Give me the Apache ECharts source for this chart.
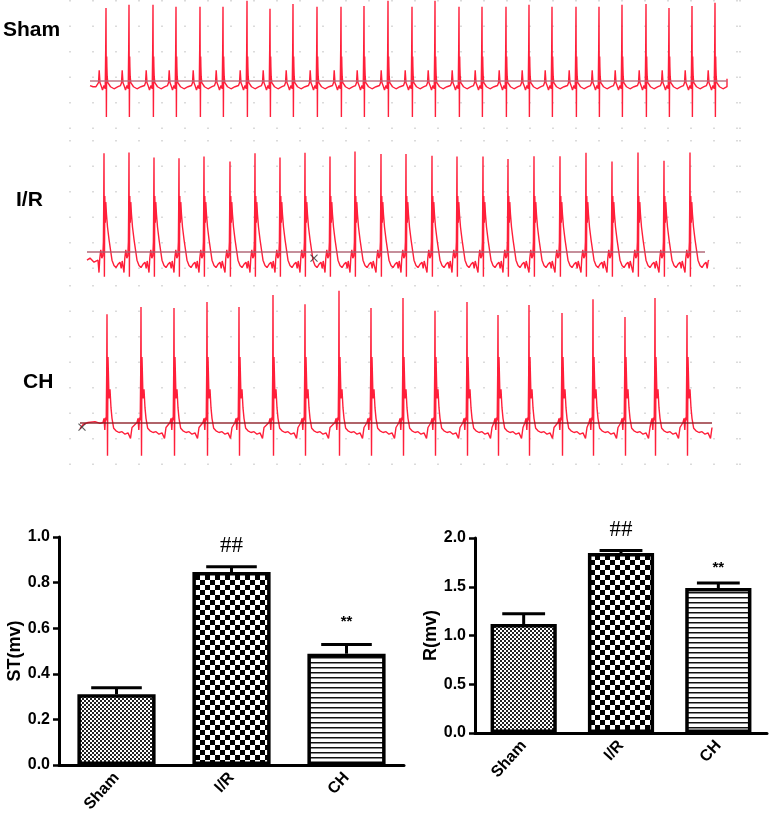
<!DOCTYPE html>
<html><head><meta charset="utf-8">
<script src="https://cdn.jsdelivr.net/npm/echarts@6/dist/echarts.min.js"></script>
<style>html,body{margin:0;padding:0;background:#fff}#c{width:770px;height:825px}</style>
</head><body><div id="c"></div>
<script>
// ---------- ECG data (time in ms, amplitude in mV) ----------
const traceNames = ['Sham', 'I/R', 'CH'];

const shamBeatTimes = [360,590,830,1060,1300,1530,1770,2000,2230,2470,2710,2940,3180,3420,3650,3890,4120,4360,4590,4820,5060,5290,5520,5760,5990,6220,6450];
const shamPeaks = [1.80,1.88,1.88,1.83,1.83,1.83,1.98,1.78,1.90,1.83,1.83,1.85,1.98,1.83,1.98,1.83,1.83,1.83,1.88,1.83,1.83,1.83,1.88,1.90,1.80,1.85,1.93];
const shamBeat = [[-100,-0.15],[-85,-0.12],[-75,-0.05],[-68,0.26],[-60,-0.05],[-45,-0.15],[-35,-0.23],[-20,-0.12],[-8,-0.2],[-3,0.8],[0,'R'],[4,-0.9],[7,0.6],[9,0.34],[12,0.1],[18,-0.05],[30,-0.08],[45,-0.15],[60,-0.18],[80,-0.2],[100,-0.16],[120,-0.15]];
const shamLead = [[200,-0.12],[230,-0.15]];
const shamTail = [[6570,0.05]];

const irBeatTimes = [340,590,840,1090,1340,1600,1850,2100,2350,2600,2850,3110,3360,3620,3870,4130,4380,4640,4900,5160,5420,5680,5940,6200];
const irPeaks = [2.38,2.40,2.28,2.26,2.30,2.18,2.38,2.28,2.39,2.30,2.42,2.36,2.36,2.32,2.30,2.30,2.24,2.31,2.31,2.39,2.18,2.40,2.20,2.40];
const irBeat = [[-60,-0.2],[-50,-0.5],[-42,-0.15],[-32,0.05],[-22,-0.15],[-12,-0.1],[-6,0.25],[-3,1.1],[0,'R'],[4,-0.6],[8,1.35],[13,0.7],[18,1.2],[25,0.9],[35,0.6],[50,0.3],[65,0.05],[80,-0.2],[100,-0.33],[120,-0.38],[140,-0.3],[160,-0.25],[172,-0.4],[182,-0.22],[190,-0.2]];
const irLead = [[170,-0.2],[200,-0.15],[240,-0.25]];
const irTail = [];

const chBeatTimes = [370,710,1040,1370,1690,2030,2350,2690,3010,3330,3650,3970,4280,4590,4920,5230,5550,5850,6170];
const chPeaks = [2.60,2.77,2.75,2.89,2.77,3.06,2.84,3.16,2.75,2.99,2.68,2.89,2.58,2.82,2.63,2.96,2.53,2.99,2.58];
const chBeat = [[-40,0.0],[-30,0.1],[-22,-0.18],[-15,0.12],[-8,0.05],[-3,1.2],[0,'R'],[5,-0.8],[10,1.57],[20,0.58],[30,0.8],[40,0.35],[50,0.1],[67,-0.14],[90,-0.2],[120,-0.24],[150,-0.22],[180,-0.28],[210,-0.25],[235,-0.38],[250,-0.12]];
const chLead = [[100,-0.15],[130,-0.05],[180,0.0],[250,0.02],[300,-0.02]];
const chTail = [];

const baseStart = [200, 170, 100];
const baseEnd = [6570, 6350, 6420];
const markers = [null, [2440, -0.15], [120, -0.11]];

// ---------- Bar chart data ----------
const categories = ['Sham', 'I/R', 'CH'];
const stMean = [0.31, 0.846, 0.488];
const stSem = [0.029, 0.024, 0.041];
const rMean = [1.118, 1.846, 1.487];
const rSem = [0.106, 0.027, 0.051];
const annotations = ['', '##', '**'];
const stTicks = [0, 1.0, 0.2];
const rTicks = [0, 2.0, 0.5];

function buildTrace(lead, times, peaks, beat, tail) {
  const out = lead.slice();
  times.forEach((t, i) => {
    beat.forEach(p => out.push([t + p[0], p[1] === 'R' ? peaks[i] : p[1]]));
  });
  return out.concat(tail);
}
const traces = [
  buildTrace(shamLead, shamBeatTimes, shamPeaks, shamBeat, shamTail),
  buildTrace(irLead, irBeatTimes, irPeaks, irBeat, irTail),
  buildTrace(chLead, chBeatTimes, chPeaks, chBeat, chTail)
];

// ---------- patterns ----------
function makePattern(kind) {
  const c = document.createElement('canvas');
  const ctx = c.getContext('2d');
  if (kind === 0) {
    c.width = 4; c.height = 4;
    ctx.fillStyle = '#fff'; ctx.fillRect(0,0,4,4);
    ctx.fillStyle = '#222'; ctx.fillRect(0,0,2,2); ctx.fillRect(2,2,2,2);
  } else if (kind === 1) {
    c.width = 10; c.height = 10;
    ctx.fillStyle = '#fff'; ctx.fillRect(0,0,10,10);
    ctx.fillStyle = '#000'; ctx.fillRect(0,0,5,5); ctx.fillRect(5,5,5,5);
  } else {
    c.width = 5; c.height = 5;
    ctx.fillStyle = '#fff'; ctx.fillRect(0,0,5,5);
    ctx.fillStyle = '#111'; ctx.fillRect(0,2,5,1);
    ctx.fillStyle = '#888'; ctx.fillRect(0,3,5,1);
  }
  return { image: c, repeat: 'repeat' };
}
const patterns = [makePattern(0), makePattern(1), makePattern(2)];

const FONT = 'Liberation Sans, Arial, sans-serif';

// ---------- layout ----------
const ecgGrids = [
  { left: 70, width: 670, top: 0, height: 140, min: -1.47, max: 2.0, base: '#b46a7a' },
  { left: 70, width: 670, top: 140, height: 145, min: -0.8, max: 2.7, base: '#a85a6a' },
  { left: 70, width: 670, top: 285, height: 195, min: -1.38, max: 3.3, base: '#8a1a22' }
];
const barGrids = [
  { left: 59, top: 537, width: 345, height: 228, name: 'ST(mv)', mean: stMean, sem: stSem, ticks: stTicks, hashOff: 21, starOff: 23 },
  { left: 475, top: 538, width: 292, height: 195, name: 'R(mv)', mean: rMean, sem: rSem, ticks: rTicks, hashOff: 20, starOff: 15 }
];

const grid = [], xAxis = [], yAxis = [], series = [], title = [];
const titlePos = [[3, 20], [16, 190], [23, 372]];

ecgGrids.forEach((g, i) => {
  grid.push({ left: g.left, top: g.top, width: g.width, height: g.height });
  xAxis.push({ type: 'value', gridIndex: i, min: 0, max: 6700, interval: 230,
    axisLine: { show: false }, axisTick: { show: false }, axisLabel: { show: false },
    splitLine: { show: true, lineStyle: { color: '#cfcfcf', width: 1.5, type: [1.5, 24] } } });
  yAxis.push({ type: 'value', gridIndex: i, min: g.min, max: g.max,
    axisLine: { show: false }, axisTick: { show: false }, axisLabel: { show: false }, splitLine: { show: false } });
  series.push({
    type: 'line', xAxisIndex: i, yAxisIndex: i, data: traces[i], showSymbol: false, symbol: 'none',
    lineStyle: { color: '#ff1f3a', width: 1.4 }, z: 3, silent: true,
    markLine: { symbol: 'none', silent: true, label: { show: false }, animation: false,
      lineStyle: { color: g.base, width: 1.6, type: 'solid', opacity: 0.9 },
      data: [[{ coord: [baseStart[i], 0] }, { coord: [baseEnd[i], 0] }]] }
  });
  if (markers[i]) {
    series.push({ type: 'scatter', xAxisIndex: i, yAxisIndex: i, data: [markers[i]], silent: true, z: 4,
      symbol: 'path://M0,0L10,10M10,0L0,10', symbolSize: 7,
      itemStyle: { color: 'none', borderColor: '#333', borderWidth: 1.2 } });
  }
  title.push({ text: traceNames[i], left: titlePos[i][0], top: titlePos[i][1], padding: 0,
    textStyle: { fontFamily: FONT, fontWeight: 'bold', fontSize: 21, color: '#000' } });
});

barGrids.forEach((b, k) => {
  const gi = 3 + k;
  grid.push({ left: b.left, top: b.top, width: b.width, height: b.height });
  xAxis.push({ type: 'category', gridIndex: gi, data: categories,
    axisLine: { lineStyle: { color: '#000', width: 3 } },
    axisTick: { alignWithLabel: true, length: 6, lineStyle: { color: '#000', width: 2.5 } },
    axisLabel: { rotate: 48, margin: 10, fontFamily: FONT, fontWeight: 'bold', fontSize: 16, color: '#000' },
    splitLine: { show: false } });
  yAxis.push({ type: 'value', gridIndex: gi, min: b.ticks[0], max: b.ticks[1], interval: b.ticks[2],
    name: b.name, nameLocation: 'middle', nameGap: 34, nameRotate: 90,
    nameTextStyle: { fontFamily: FONT, fontWeight: 'bold', fontSize: 18, color: '#000' },
    axisLine: { show: true, lineStyle: { color: '#000', width: 3 } },
    axisTick: { show: true, length: 6, lineStyle: { color: '#000', width: 2.5 } },
    axisLabel: { margin: 9, fontFamily: FONT, fontWeight: 'bold', fontSize: 16, color: '#000',
      formatter: v => v.toFixed(1) },
    splitLine: { show: false } });
  series.push({
    type: 'bar', xAxisIndex: gi, yAxisIndex: gi, barWidth: '68%', silent: true, z: 2,
    data: b.mean.map((v, j) => ({ value: v, itemStyle: { color: patterns[j], borderColor: '#000', borderWidth: 3.5 } }))
  });
  series.push({
    type: 'custom', xAxisIndex: gi, yAxisIndex: gi, silent: true, z: 3,
    data: b.mean.map((v, j) => [j, v, v + b.sem[j]]),
    encode: { x: 0, y: [1, 2] },
    renderItem: (params, api) => {
      const j = api.value(0);
      const lo = api.coord([j, api.value(1)]);
      const hi = api.coord([j, api.value(2)]);
      const half = api.size([1, 0])[0] * 0.22;
      const ann = annotations[params.dataIndex];
      const isHash = ann === '##';
      const children = [
        { type: 'line', shape: { x1: lo[0], y1: lo[1], x2: hi[0], y2: hi[1] }, style: { stroke: '#000', lineWidth: 3 } },
        { type: 'line', shape: { x1: hi[0] - half, y1: hi[1], x2: hi[0] + half, y2: hi[1] }, style: { stroke: '#000', lineWidth: 3 } }
      ];
      if (ann) {
        children.push({ type: 'text', x: hi[0], y: hi[1] - (isHash ? b.hashOff : b.starOff),
          style: { text: ann, fill: '#000', align: 'center', verticalAlign: 'middle',
            font: isHash ? '23px "Liberation Serif", serif' : 'bold 15px "Liberation Sans", Arial, sans-serif' } });
      }
      return { type: 'group', children };
    }
  });
});

const chart = echarts.init(document.getElementById('c'), null, { renderer: 'canvas' });
chart.setOption({ animation: false, backgroundColor: '#fff', title, grid, xAxis, yAxis, series });
</script>
</body></html>
